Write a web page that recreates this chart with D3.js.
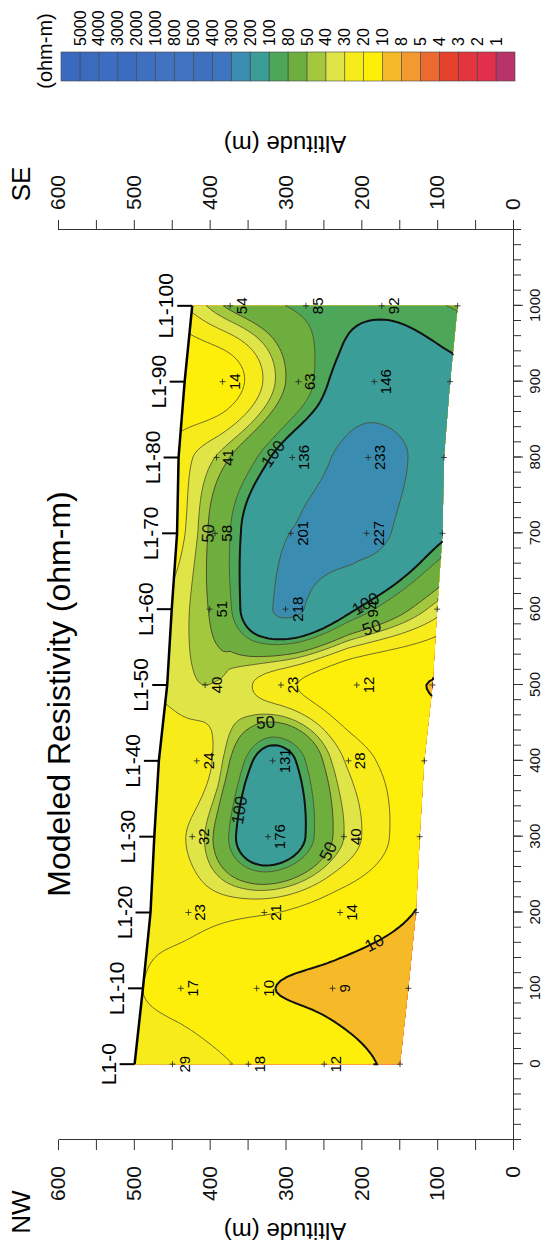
<!DOCTYPE html>
<html>
<head>
<meta charset="utf-8">
<script src="https://cdn.jsdelivr.net/npm/d3@7"></script>
<style>
  body { margin: 0; background: #fff; }
  svg text { font-family: "Liberation Sans", Arial, sans-serif; }
</style>
</head>
<body>
<div id="chart"></div>
<script>
// stations along line L1 (m) and ground altitude (m)
const stations = [0, 100, 200, 300, 400, 500, 600, 700, 800, 900, 1000];
const stationLabels = ["L1-0", "L1-10", "L1-20", "L1-30", "L1-40", "L1-50", "L1-60", "L1-70", "L1-80", "L1-90", "L1-100"];
const surfaceAlt = [499, 488, 478, 473, 467, 456, 450, 443, 441, 433, 423];

// depth below ground (m) of each row of values
const depths = [0, 50, 150, 250, 350];
// resistivity (ohm-m); surface and bottom rows read from the colours,
// printed labels are rounded
const resSurface = [30, 20, 22, 25, 22, 32, 33, 25, 25, 11, 33];
const res50  = [29, 17, 23, 32, 24, 40, 51, 58, 41, 14, 54];
const res150 = [18, 10.4, 21, 176, 131, 23, 218, 201, 136, 63, 85];
const res250 = [12, 9.4, 14, 40, 28, 12, 94, 227, 233, 146, 92];
const res350 = [9.3, 8.5, 9.9, 13, 13, 9.85, 35, 110, 160, 115, 78];
const labelRows = [1, 2, 3];        // rows that carry a value label

const legendBreaks = [1, 2, 3, 4, 5, 8, 10, 20, 30, 40, 50, 80, 100, 200, 300, 400, 500, 800, 1000, 2000, 3000, 4000, 5000];
const legendColors = ["#b8336a", "#e0304c", "#e4353e", "#e6402f", "#ec6a30", "#f29a30", "#f6b928",
  "#fdef0a", "#f7ec1a", "#dfe447", "#a3c83e", "#6dae3e", "#4ea658", "#3a9d98", "#3a8db0",
  "#3f75c0", "#3e70c0", "#4072c2", "#4072c2", "#3e6fc0", "#3c6cbf", "#3d6dc0", "#3b6bbe", "#3a6abf"];

const lineLevels = [10, 20, 30, 40, 50, 80, 100, 200];
const boldLevels = [10, 100];
const contourLabels = [
  {level: 10, d: 164, alt: 185},
  {level: 50, d: 443, alt: 327},
  {level: 50, d: 286, alt: 251},
  {level: 50, d: 575, alt: 185},
  {level: 50, d: 700, alt: 383},
  {level: 100, d: 331, alt: 351},
  {level: 100, d: 609, alt: 193},
  {level: 100, d: 797, alt: 307}
];

const W = 1248, H = 549;
const svg = d3.select("#chart").append("svg")
  .attr("width", H).attr("height", W);
// chart is drawn landscape and turned a quarter turn
const g = svg.append("g").attr("transform", `translate(0,${W}) rotate(-90)`);

const x = d3.scaleLinear().domain([-100, 1100]).range([108, 1018]);
const y = d3.scaleLinear().domain([0, 600]).range([513, 58]);
const surf = d3.scaleLinear().domain(stations).range(surfaceAlt);

// monotone cubic through the read values (log space), like a gridding step
function monotone(ts, vs, t) {
  const n = ts.length;
  const h = d3.range(n - 1).map(i => ts[i + 1] - ts[i]);
  const dl = d3.range(n - 1).map(i => (vs[i + 1] - vs[i]) / h[i]);
  const m = vs.map((v, i) => {
    if (i === 0) return dl[0];
    if (i === n - 1) return dl[n - 2];
    const p = (dl[i - 1] * h[i] + dl[i] * h[i - 1]) / (h[i - 1] + h[i]);
    return (Math.sign(dl[i - 1]) + Math.sign(dl[i])) * Math.min(Math.abs(dl[i - 1]), Math.abs(dl[i]), 0.5 * Math.abs(p)) || 0;
  });
  const k = Math.max(0, Math.min(n - 2, d3.bisectRight(ts, t) - 1));
  const s = (t - ts[k]) / h[k], s2 = s * s, s3 = s2 * s;
  return (2 * s3 - 3 * s2 + 1) * vs[k] + (s3 - 2 * s2 + s) * h[k] * m[k]
    + (-2 * s3 + 3 * s2) * vs[k + 1] + (s3 - s2) * h[k] * m[k + 1];
}

const dStep = 5, zStep = 5;
const nx = 1000 / dStep + 1, ny = 350 / zStep + 1;
const rows = [resSurface, res50, res150, res250, res350];
const logRows = rows.map(r => r.map(v => Math.log10(v)));
const colFine = stations.map((s, i) => d3.range(ny).map(j => monotone(depths, logRows.map(r => r[i]), j * zStep)));
const grid = new Float64Array(nx * ny);
for (let j = 0; j < ny; j++) {
  const row = colFine.map(c => c[j]);
  for (let k = 0; k < nx; k++) grid[j * nx + k] = monotone(stations, row, k * dStep);
}

function proj(p) {
  const d = Math.max(0, Math.min(1000, (p[0] - 0.5) * dStep));
  const dep = Math.max(0, Math.min(350, (p[1] - 0.5) * zStep));
  return [x(d), y(surf(d) - dep)];
}
const line = d3.line();
const contourGen = d3.contours().size([nx, ny]);

// filled bands
const fillThresholds = [-10].concat(legendBreaks.map(v => Math.log10(v)));
const fills = g.append("g");
fillThresholds.forEach((t, i) => {
  const c = contourGen.contour(grid, t);
  if (!c.coordinates.length) return;
  const dstr = c.coordinates.map(poly => poly.map(ring => line(ring.map(proj)) + "Z").join("")).join("");
  fills.append("path").attr("d", dstr).attr("fill", legendColors[i]).attr("stroke", "none");
});

// contour lines without the grid border
const onEdge = (a, b) => (a[0] === 0 && b[0] === 0) || (a[0] === nx && b[0] === nx)
  || (a[1] === 0 && b[1] === 0) || (a[1] === ny && b[1] === ny);
const linePieces = {};
lineLevels.forEach(level => {
  const c = contourGen.contour(grid, Math.log10(level));
  const pieces = [];
  c.coordinates.forEach(poly => poly.forEach(ring => {
    let cur = [];
    for (let i = 0; i < ring.length - 1; i++) {
      if (onEdge(ring[i], ring[i + 1])) {
        if (cur.length > 1) pieces.push(cur);
        cur = [];
      } else {
        if (!cur.length) cur.push(proj(ring[i]));
        cur.push(proj(ring[i + 1]));
      }
    }
    if (cur.length > 1) pieces.push(cur);
  }));
  linePieces[level] = pieces;
  const bold = boldLevels.includes(level);
  g.append("path")
    .attr("d", pieces.map(p => line(p)).join(""))
    .attr("fill", "none")
    .attr("stroke", bold ? "#111" : "#4d4a2c")
    .attr("stroke-width", bold ? 2 : (level === 50 ? 1 : 0.8));
});

// contour labels follow the line direction
contourLabels.forEach(lb => {
  const tx = x(lb.d), ty = y(lb.alt);
  let best = null, bd = Infinity;
  linePieces[lb.level].forEach(p => p.forEach((pt, i) => {
    const dd = (pt[0] - tx) ** 2 + (pt[1] - ty) ** 2;
    if (dd < bd) { bd = dd; best = {p, i}; }
  }));
  if (!best) return;
  const a = best.p[Math.max(0, best.i - 3)], b = best.p[Math.min(best.p.length - 1, best.i + 3)];
  let ang = Math.atan2(b[1] - a[1], b[0] - a[0]) * 180 / Math.PI;
  if (ang > 90) ang -= 180;
  if (ang < -90) ang += 180;
  const pt = best.p[best.i];
  g.append("text")
    .attr("transform", `translate(${pt[0]},${pt[1]}) rotate(${ang})`)
    .attr("text-anchor", "middle").attr("dy", "0.35em")
    .style("font-size", "17px").style("fill", "#111")
    .text(lb.level);
});

// ground surface and station ticks
g.append("path")
  .attr("d", line(stations.map((s, i) => [x(s), y(surfaceAlt[i])])))
  .attr("fill", "none").attr("stroke", "#000").attr("stroke-width", 2.5);
stations.forEach((s, i) => {
  g.append("line")
    .attr("x1", x(s)).attr("x2", x(s))
    .attr("y1", y(surfaceAlt[i]) - 15).attr("y2", y(surfaceAlt[i]))
    .attr("stroke", "#000").attr("stroke-width", 2);
  g.append("text")
    .attr("x", x(s)).attr("y", y(surfaceAlt[i]) - 19)
    .attr("text-anchor", "middle").style("font-size", "21px")
    .text(stationLabels[i]);
});

// data points and their values
rows.forEach((r, ri) => {
  if (ri === 0) return;
  stations.forEach((s, i) => {
    const px = x(s), py = y(surfaceAlt[i] - depths[ri]);
    g.append("path").attr("d", `M${px - 3},${py}H${px + 3}M${px},${py - 3}V${py + 3}`)
      .attr("stroke", "#222").attr("stroke-width", 0.8);
    if (labelRows.includes(ri)) {
      g.append("text").attr("x", px).attr("y", py + 17)
        .attr("text-anchor", "middle").style("font-size", "15px")
        .text(Math.round(r[i]));
    }
  });
});

// axes
const axisStyle = sel => {
  sel.select(".domain").attr("stroke", "#333");
  sel.selectAll(".tick line").attr("stroke", "#333");
  sel.selectAll("text").style("fill", "#111");
};
g.append("g").attr("transform", `translate(0,${y(0)})`)
  .call(d3.axisBottom(x).tickValues(d3.range(-100, 1101, 20)).tickFormat("").tickSize(8).tickSizeOuter(0))
  .call(axisStyle);
g.append("g").attr("transform", `translate(0,${y(0)})`)
  .call(d3.axisBottom(x).tickValues(d3.range(0, 1001, 100)).tickFormat(d3.format("d"))
    .tickSize(10).tickSizeOuter(0).tickPadding(6))
  .call(axisStyle)
  .call(a => a.selectAll("text").style("font-size", "15px"));
g.append("g").attr("transform", `translate(${x(-100)},0)`)
  .call(d3.axisLeft(y).tickValues(d3.range(0, 601, 50)).tickFormat(v => v % 100 ? "" : v)
    .tickSize(10).tickSizeOuter(0).tickPadding(16))
  .call(axisStyle)
  .call(a => a.selectAll("text").style("font-size", "21px"));
g.append("g").attr("transform", `translate(${x(1100)},0)`)
  .call(d3.axisRight(y).tickValues(d3.range(0, 601, 50)).tickFormat(v => v % 100 ? "" : v)
    .tickSize(10).tickSizeOuter(0).tickPadding(10))
  .call(axisStyle)
  .call(a => a.selectAll("text").style("font-size", "21px"));

// titles
g.append("text").attr("x", 554).attr("y", 70).attr("text-anchor", "middle")
  .style("font-size", "32px").text("Modeled Resistivity (ohm-m)");
g.append("text").attr("x", 36).attr("y", 30).attr("text-anchor", "middle")
  .style("font-size", "26px").text("NW");
g.append("text").attr("x", 1064).attr("y", 30).attr("text-anchor", "middle")
  .style("font-size", "26px").text("SE");
g.append("text").attr("transform", `translate(25,285) rotate(-90)`).attr("text-anchor", "middle")
  .style("font-size", "24px").text("Altitude (m)");
g.append("text").attr("transform", `translate(1112,285) rotate(-90)`).attr("text-anchor", "middle")
  .style("font-size", "24px").text("Altitude (m)");

// colour legend
const ly = d3.scaleLinear().domain([0, legendColors.length]).range([515, 61]);
const leg = g.append("g");
leg.selectAll("rect").data(legendColors).enter().append("rect")
  .attr("x", 1167).attr("width", 29)
  .attr("y", (c, i) => ly(i + 1)).attr("height", (c, i) => ly(i) - ly(i + 1))
  .attr("fill", c => c).attr("stroke", "#444").attr("stroke-width", 0.6);
leg.selectAll("text").data(legendBreaks).enter().append("text")
  .attr("x", 1202).attr("y", (v, i) => ly(i + 1)).attr("dy", "0.35em")
  .style("font-size", "16px").text(v => v);
leg.append("text").attr("x", 1197).attr("y", 52).attr("text-anchor", "middle")
  .style("font-size", "20px").text("(ohm-m)");
</script>
</body>
</html>
